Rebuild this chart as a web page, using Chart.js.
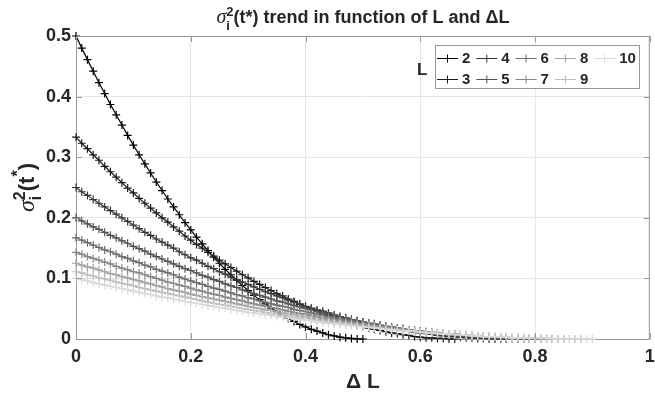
<!DOCTYPE html>
<html>
<head>
<meta charset="utf-8">
<script src="https://cdn.jsdelivr.net/npm/chart.js@4.4.0/dist/chart.umd.min.js"></script>
<style>
  html, body { margin: 0; padding: 0; background: #fff; }
  #chart { display: block; }
</style>
</head>
<body>
<canvas id="chart" width="655" height="399"></canvas>
<script>
'use strict';

// L values (one curve each) and the Delta L sample positions
var levels = [2, 3, 4, 5, 6, 7, 8, 9, 10];
var deltaL = [0, 0.01, 0.02, 0.03, 0.04, 0.05, 0.06, 0.07, 0.08, 0.09,
  0.1, 0.11, 0.12, 0.13, 0.14, 0.15, 0.16, 0.17, 0.18, 0.19,
  0.2, 0.21, 0.22, 0.23, 0.24, 0.25, 0.26, 0.27, 0.28, 0.29,
  0.3, 0.31, 0.32, 0.33, 0.34, 0.35, 0.36, 0.37, 0.38, 0.39,
  0.4, 0.41, 0.42, 0.43, 0.44, 0.45, 0.46, 0.47, 0.48, 0.49,
  0.5, 0.51, 0.52, 0.53, 0.54, 0.55, 0.56, 0.57, 0.58, 0.59,
  0.6, 0.61, 0.62, 0.63, 0.64, 0.65, 0.66, 0.67, 0.68, 0.69,
  0.7, 0.71, 0.72, 0.73, 0.74, 0.75, 0.76, 0.77, 0.78, 0.79,
  0.8, 0.81, 0.82, 0.83, 0.84, 0.85, 0.86, 0.87, 0.88, 0.89, 0.9];

// sigma_i^2(t*), each curve stops where it reaches 0
var sigmaL2 = [0.5, 0.48, 0.461, 0.442, 0.423, 0.405, 0.387, 0.37, 0.353, 0.336,
  0.32, 0.304, 0.289, 0.274, 0.259, 0.245, 0.231, 0.218, 0.205, 0.192,
  0.18, 0.168, 0.157, 0.146, 0.135, 0.125, 0.115, 0.106, 0.097, 0.088,
  0.08, 0.072, 0.065, 0.058, 0.051, 0.045, 0.039, 0.034, 0.029, 0.024,
  0.02, 0.016, 0.013, 0.01, 0.007, 0.005, 0.003, 0.002, 0.001, 0, 0];
var sigmaL3 = [0.333, 0.323, 0.314, 0.304, 0.295, 0.285, 0.276, 0.267, 0.258, 0.249,
  0.241, 0.232, 0.224, 0.216, 0.208, 0.2, 0.193, 0.185, 0.178, 0.17,
  0.163, 0.156, 0.15, 0.143, 0.137, 0.13, 0.124, 0.118, 0.112, 0.106,
  0.101, 0.095, 0.09, 0.085, 0.08, 0.075, 0.071, 0.066, 0.062, 0.057,
  0.053, 0.049, 0.046, 0.042, 0.039, 0.035, 0.032, 0.029, 0.026, 0.023,
  0.021, 0.018, 0.016, 0.014, 0.012, 0.01, 0.009, 0.007, 0.006, 0.004,
  0.003, 0.002, 0.002, 0.001, 0.001, 0, 0];
var sigmaL4 = [0.25, 0.243, 0.237, 0.23, 0.224, 0.218, 0.212, 0.206, 0.2, 0.194,
  0.188, 0.182, 0.176, 0.171, 0.165, 0.16, 0.155, 0.15, 0.144, 0.139,
  0.134, 0.13, 0.125, 0.12, 0.116, 0.111, 0.107, 0.102, 0.098, 0.094,
  0.09, 0.086, 0.082, 0.078, 0.075, 0.071, 0.068, 0.064, 0.061, 0.058,
  0.054, 0.051, 0.048, 0.046, 0.043, 0.04, 0.037, 0.035, 0.032, 0.03,
  0.028, 0.026, 0.024, 0.022, 0.02, 0.018, 0.016, 0.014, 0.013, 0.011,
  0.01, 0.009, 0.008, 0.006, 0.005, 0.004, 0.004, 0.003, 0.002, 0.002,
  0.001, 0.001, 0, 0, 0, 0];
var sigmaL5 = [0.2, 0.195, 0.19, 0.185, 0.181, 0.176, 0.171, 0.167, 0.162, 0.158,
  0.153, 0.149, 0.145, 0.14, 0.136, 0.132, 0.128, 0.124, 0.12, 0.116,
  0.113, 0.109, 0.105, 0.102, 0.098, 0.095, 0.091, 0.088, 0.085, 0.081,
  0.078, 0.075, 0.072, 0.069, 0.066, 0.063, 0.061, 0.058, 0.055, 0.053,
  0.05, 0.048, 0.045, 0.043, 0.041, 0.038, 0.036, 0.034, 0.032, 0.03,
  0.028, 0.026, 0.025, 0.023, 0.021, 0.02, 0.018, 0.017, 0.015, 0.014,
  0.013, 0.011, 0.01, 0.009, 0.008, 0.007, 0.006, 0.005, 0.005, 0.004,
  0.003, 0.003, 0.002, 0.002, 0.001, 0.001, 0.001, 0, 0, 0, 0];
var sigmaL6 = [0.167, 0.163, 0.159, 0.155, 0.151, 0.147, 0.144, 0.14, 0.136, 0.133,
  0.129, 0.126, 0.122, 0.119, 0.115, 0.112, 0.109, 0.106, 0.102, 0.099,
  0.096, 0.093, 0.09, 0.087, 0.084, 0.082, 0.079, 0.076, 0.073, 0.071,
  0.068, 0.066, 0.063, 0.061, 0.058, 0.056, 0.054, 0.052, 0.049, 0.047,
  0.045, 0.043, 0.041, 0.039, 0.037, 0.035, 0.033, 0.032, 0.03, 0.028,
  0.027, 0.025, 0.024, 0.022, 0.021, 0.019, 0.018, 0.017, 0.015, 0.014,
  0.013, 0.012, 0.011, 0.01, 0.009, 0.008, 0.007, 0.006, 0.006, 0.005,
  0.004, 0.004, 0.003, 0.003, 0.002, 0.002, 0.001, 0.001, 0.001, 0,
  0, 0, 0, 0];
var sigmaL7 = [0.143, 0.14, 0.136, 0.133, 0.13, 0.127, 0.124, 0.12, 0.117, 0.114,
  0.111, 0.109, 0.106, 0.103, 0.1, 0.097, 0.094, 0.092, 0.089, 0.087,
  0.084, 0.081, 0.079, 0.076, 0.074, 0.072, 0.069, 0.067, 0.065, 0.063,
  0.06, 0.058, 0.056, 0.054, 0.052, 0.05, 0.048, 0.046, 0.044, 0.042,
  0.041, 0.039, 0.037, 0.035, 0.034, 0.032, 0.031, 0.029, 0.028, 0.026,
  0.025, 0.023, 0.022, 0.021, 0.02, 0.018, 0.017, 0.016, 0.015, 0.014,
  0.013, 0.012, 0.011, 0.01, 0.009, 0.008, 0.008, 0.007, 0.006, 0.005,
  0.005, 0.004, 0.004, 0.003, 0.003, 0.002, 0.002, 0.001, 0.001, 0.001,
  0.001, 0, 0, 0, 0, 0];
var sigmaL8 = [0.125, 0.122, 0.119, 0.117, 0.114, 0.111, 0.108, 0.106, 0.103, 0.101,
  0.098, 0.096, 0.093, 0.091, 0.088, 0.086, 0.083, 0.081, 0.079, 0.077,
  0.074, 0.072, 0.07, 0.068, 0.066, 0.064, 0.062, 0.06, 0.058, 0.056,
  0.054, 0.052, 0.05, 0.048, 0.047, 0.045, 0.043, 0.042, 0.04, 0.038,
  0.037, 0.035, 0.034, 0.032, 0.031, 0.029, 0.028, 0.027, 0.025, 0.024,
  0.023, 0.022, 0.021, 0.019, 0.018, 0.017, 0.016, 0.015, 0.014, 0.013,
  0.012, 0.011, 0.011, 0.01, 0.009, 0.008, 0.008, 0.007, 0.006, 0.006,
  0.005, 0.004, 0.004, 0.003, 0.003, 0.003, 0.002, 0.002, 0.001, 0.001,
  0.001, 0.001, 0, 0, 0, 0, 0, 0];
var sigmaL9 = [0.111, 0.109, 0.106, 0.104, 0.101, 0.099, 0.097, 0.094, 0.092, 0.09,
  0.088, 0.085, 0.083, 0.081, 0.079, 0.077, 0.075, 0.073, 0.071, 0.069,
  0.067, 0.065, 0.063, 0.061, 0.059, 0.057, 0.056, 0.054, 0.052, 0.05,
  0.049, 0.047, 0.046, 0.044, 0.042, 0.041, 0.039, 0.038, 0.036, 0.035,
  0.034, 0.032, 0.031, 0.03, 0.028, 0.027, 0.026, 0.025, 0.024, 0.022,
  0.021, 0.02, 0.019, 0.018, 0.017, 0.016, 0.015, 0.014, 0.013, 0.013,
  0.012, 0.011, 0.01, 0.009, 0.009, 0.008, 0.007, 0.007, 0.006, 0.006,
  0.005, 0.004, 0.004, 0.004, 0.003, 0.003, 0.002, 0.002, 0.002, 0.001,
  0.001, 0.001, 0.001, 0, 0, 0, 0, 0, 0];
var sigmaL10 = [0.1, 0.098, 0.096, 0.093, 0.091, 0.089, 0.087, 0.085, 0.083, 0.081,
  0.079, 0.077, 0.075, 0.073, 0.071, 0.069, 0.068, 0.066, 0.064, 0.062,
  0.06, 0.059, 0.057, 0.055, 0.054, 0.052, 0.051, 0.049, 0.047, 0.046,
  0.044, 0.043, 0.042, 0.04, 0.039, 0.037, 0.036, 0.035, 0.033, 0.032,
  0.031, 0.03, 0.028, 0.027, 0.026, 0.025, 0.024, 0.023, 0.022, 0.021,
  0.02, 0.019, 0.018, 0.017, 0.016, 0.015, 0.014, 0.013, 0.013, 0.012,
  0.011, 0.01, 0.01, 0.009, 0.008, 0.008, 0.007, 0.007, 0.006, 0.005,
  0.005, 0.004, 0.004, 0.004, 0.003, 0.003, 0.002, 0.002, 0.002, 0.001,
  0.001, 0.001, 0.001, 0.001, 0, 0, 0, 0, 0, 0, 0];
var series = [sigmaL2, sigmaL3, sigmaL4, sigmaL5, sigmaL6, sigmaL7, sigmaL8, sigmaL9, sigmaL10];

var xTickVals = [0, 0.2, 0.4, 0.6, 0.8, 1];
var xTickLabels = ['0', '0.2', '0.4', '0.6', '0.8', '1'];
var yTickVals = [0, 0.1, 0.2, 0.3, 0.4, 0.5];
var yTickLabels = ['0', '0.1', '0.2', '0.3', '0.4', '0.5'];

var grays = ['#000000', '#1b1b1b', '#363636', '#515151', '#6c6c6c', '#878787', '#a2a2a2', '#bdbdbd', '#d9d9d9'];
var axisColor = '#999999';
var textColor = '#262626';
var sans = '"Liberation Sans", Arial, sans-serif';

var datasets = levels.map(function(L, i) {
  return {
    label: String(L),
    data: series[i].map(function(v, j) { return { x: deltaL[j], y: v }; }),
    borderColor: grays[i],
    backgroundColor: grays[i],
    borderWidth: 1.2,
    pointStyle: 'cross',
    pointRadius: 4,
    pointHoverRadius: 4,
    pointBorderWidth: 1.2,
    fill: false,
    tension: 0,
    clip: false,
    order: levels.length - i
  };
});

// text with a stacked super/subscript: runs with stack:true do not advance
function richWidth(ctx, runs) {
  var w = 0, held = 0;
  runs.forEach(function(r) {
    ctx.font = r.f;
    var rw = ctx.measureText(r.t).width;
    if (r.stack) { held = rw; } else { w += Math.max(rw, held); held = 0; }
  });
  return w;
}

function drawRich(ctx, x, y, runs) {
  var held = 0;
  runs.forEach(function(r) {
    ctx.font = r.f;
    var rw = ctx.measureText(r.t).width;
    ctx.fillText(r.t, x, y + r.dy);
    if (r.stack) { held = rw; } else { x += Math.max(rw, held); held = 0; }
  });
}

var titleRuns = [
  { t: 'σ', f: 'italic 20px "Liberation Serif", serif', dy: 0 },
  { t: '2', f: 'bold 13px ' + sans, dy: -7, stack: true },
  { t: 'i', f: 'bold 13px ' + sans, dy: 7 },
  { t: '(t*) trend in function of L and ΔL', f: 'bold 18px ' + sans, dy: 0 }
];
var yLabelRuns = [
  { t: 'σ', f: 'italic 24px "Liberation Serif", serif', dy: 0 },
  { t: '2', f: 'bold 16px ' + sans, dy: -9, stack: true },
  { t: 'i', f: 'bold 16px ' + sans, dy: 7 },
  { t: '(t', f: 'bold 22px ' + sans, dy: 0 },
  { t: '*', f: 'bold 16px ' + sans, dy: -11 },
  { t: ')', f: 'bold 22px ' + sans, dy: 0 }
];

var decor = {
  id: 'decor',
  afterDraw: function(chart) {
    var ctx = chart.ctx;
    var a = chart.chartArea;
    var xs = chart.scales.x, ys = chart.scales.y;
    ctx.save();

    // box on and inward ticks
    ctx.strokeStyle = axisColor;
    ctx.lineWidth = 1;
    ctx.beginPath();
    ctx.moveTo(a.left, a.top + 0.5); ctx.lineTo(a.right, a.top + 0.5);
    ctx.moveTo(a.right - 0.5, a.top); ctx.lineTo(a.right - 0.5, a.bottom);
    xTickVals.forEach(function(v) {
      var p = Math.round(xs.getPixelForValue(v)) + 0.5;
      ctx.moveTo(p, a.bottom); ctx.lineTo(p, a.bottom - 6);
      ctx.moveTo(p, a.top); ctx.lineTo(p, a.top + 6);
    });
    yTickVals.forEach(function(v) {
      var p = Math.round(ys.getPixelForValue(v)) + 0.5;
      ctx.moveTo(a.left, p); ctx.lineTo(a.left + 6, p);
      ctx.moveTo(a.right, p); ctx.lineTo(a.right - 6, p);
    });
    ctx.stroke();

    ctx.fillStyle = textColor;
    ctx.textAlign = 'left';
    ctx.textBaseline = 'alphabetic';

    // title
    var cx = (a.left + a.right) / 2;
    var tw = richWidth(ctx, titleRuns);
    drawRich(ctx, cx - tw / 2, 23, titleRuns);

    // x axis label
    ctx.font = 'bold 21px ' + sans;
    ctx.textAlign = 'center';
    ctx.fillText('Δ L', cx, 388);

    // y axis label, rotated
    ctx.textAlign = 'left';
    var yw = richWidth(ctx, yLabelRuns);
    ctx.save();
    ctx.translate(34, (a.top + a.bottom) / 2);
    ctx.rotate(-Math.PI / 2);
    drawRich(ctx, -yw / 2, 0, yLabelRuns);
    ctx.restore();

    // legend: two rows, filled column by column, title on the left
    ctx.fillStyle = '#ffffff';
    ctx.fillRect(435, 45, 205, 44);
    ctx.strokeStyle = axisColor;
    ctx.strokeRect(435.5, 45.5, 204, 43);
    ctx.font = 'bold 17px ' + sans;
    ctx.textBaseline = 'middle';
    ctx.fillStyle = textColor;
    ctx.fillText('L', 417, 70.5);
    ctx.font = 'bold 15px ' + sans;
    ctx.lineWidth = 1;
    levels.forEach(function(L, i) {
      var col = Math.floor(i / 2), row = i % 2;
      var x0 = 437 + col * 39.3;
      var y0 = row === 0 ? 58.5 : 79.5;
      ctx.strokeStyle = grays[i];
      ctx.beginPath();
      ctx.moveTo(x0, y0); ctx.lineTo(x0 + 21, y0);
      ctx.moveTo(x0 + 10.5, y0 - 4); ctx.lineTo(x0 + 10.5, y0 + 4);
      ctx.stroke();
      ctx.fillStyle = textColor;
      ctx.fillText(String(L), x0 + 25, y0 + 0.5);
    });

    ctx.restore();
  }
};

var tickFont = { family: sans, size: 18, weight: 'bold' };

new Chart(document.getElementById('chart'), {
  type: 'line',
  data: { datasets: datasets },
  options: {
    responsive: false,
    animation: false,
    events: [],
    layout: { padding: { top: 36, right: 2, bottom: 0, left: 0 } },
    plugins: { legend: { display: false }, tooltip: { enabled: false }, title: { display: false } },
    scales: {
      x: {
        type: 'linear', min: 0, max: 1,
        afterBuildTicks: function(s) { s.ticks = xTickVals.map(function(v) { return { value: v }; }); },
        afterFit: function(s) { s.height = 60; s.paddingLeft = 0; s.paddingRight = 0; },
        ticks: {
          autoSkip: false, maxRotation: 0, padding: 7, color: textColor, font: tickFont,
          callback: function(v, i) { return xTickLabels[i]; }
        },
        grid: { color: '#e6e6e6', drawTicks: false },
        border: { color: axisColor }
      },
      y: {
        min: 0, max: 0.5,
        afterBuildTicks: function(s) { s.ticks = yTickVals.map(function(v) { return { value: v }; }); },
        afterFit: function(s) { s.width = 76; s.paddingTop = 0; s.paddingBottom = 0; },
        ticks: {
          autoSkip: false, padding: 5, color: textColor, font: tickFont,
          callback: function(v, i) { return yTickLabels[i]; }
        },
        grid: { color: '#e6e6e6', drawTicks: false },
        border: { color: axisColor }
      }
    }
  },
  plugins: [decor]
});
</script>
</body>
</html>
